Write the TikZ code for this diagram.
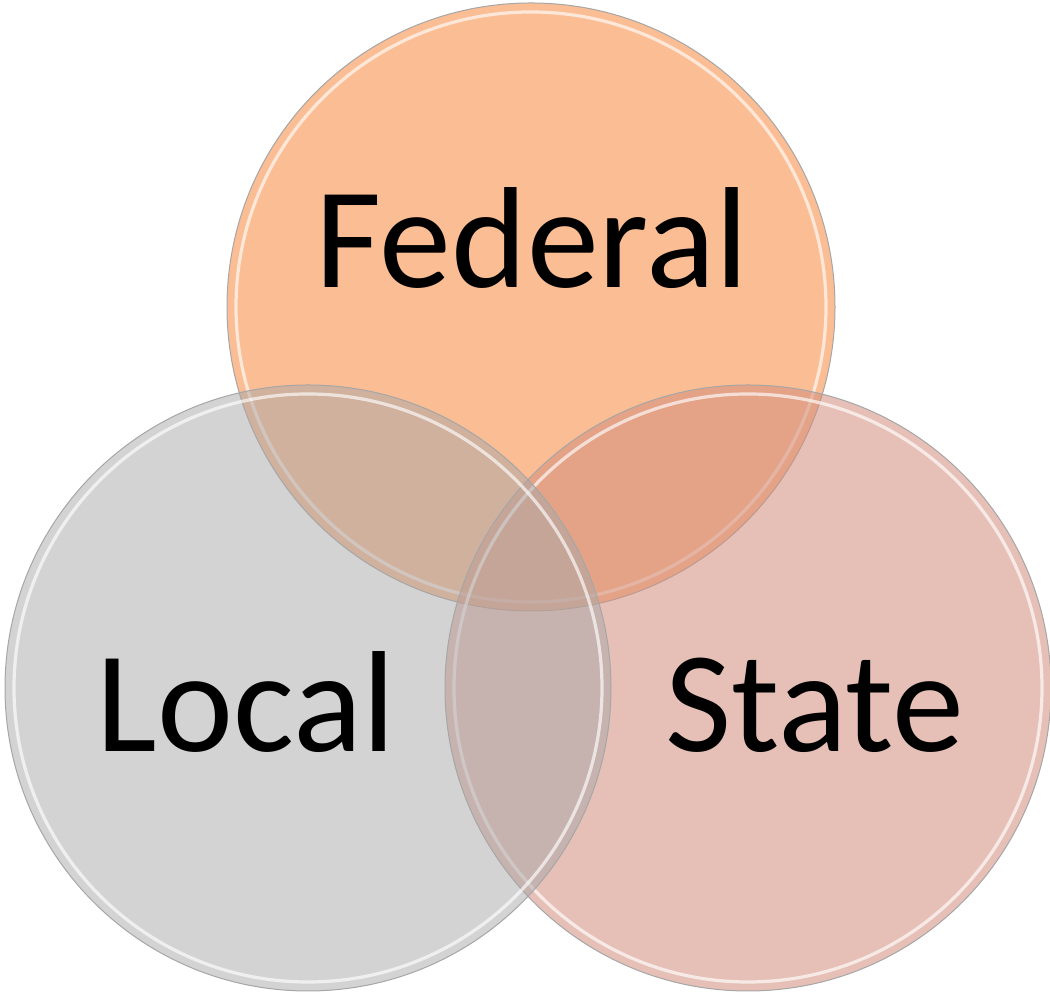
\documentclass[tikz,border=0pt]{standalone}
\usepackage{fontspec}
\setmainfont{Carlito}

\definecolor{fedorange}{RGB}{251,189,147}
\definecolor{stateros}{RGB}{210,143,126}
\definecolor{localgray}{RGB}{167,167,167}

\begin{document}
\begin{tikzpicture}[x=0.5pt,y=0.5pt,
    rim/.style={draw=black!35, line width=0.5pt},
    shine/.style={draw=white, line width=1.6pt, opacity=0.65},
    label/.style={font=\fontsize{72}{80}\selectfont, anchor=base, inner sep=0pt}]
        \useasboundingbox (0,0) rectangle (1050,994);
        % centres of the three rings
        \coordinate (fed) at (531,687);
        \coordinate (loc) at (308,306);
        \coordinate (sta) at (748,306);
        % federal first, then state, local on top
        \filldraw[fill=fedorange, rim] (fed) circle[radius=304];
        \draw[shine] (fed) circle[radius=295];
        \filldraw[fill=stateros, fill opacity=0.56, rim] (sta) circle[radius=303];
        \draw[shine] (sta) circle[radius=294];
        \filldraw[fill=localgray, fill opacity=0.5, rim] (loc) circle[radius=303];
        \draw[shine] (loc) circle[radius=294];
        \node[label] (fedtext) at (532,706) {Federal};
        \node[label] (loctext) at (246,242) {Local};
        \node[label] (statext) at (815,242) {State};
      \end{tikzpicture}
\end{document}
